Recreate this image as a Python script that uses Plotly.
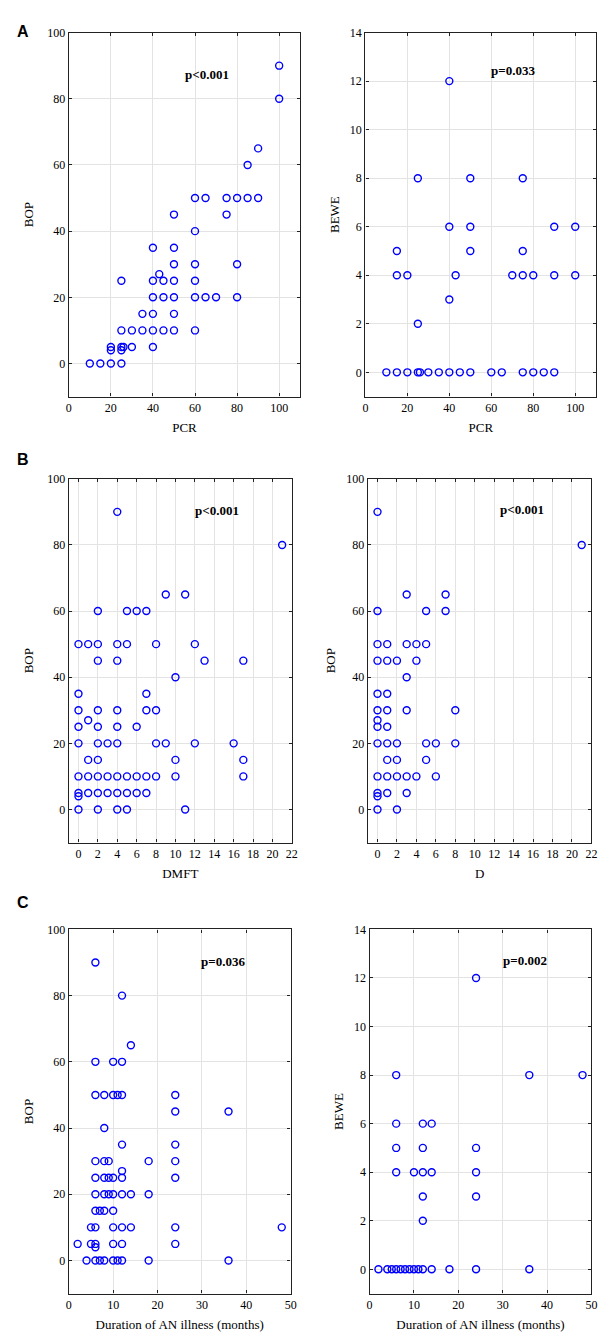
import plotly.graph_objects as go
from plotly.subplots import make_subplots

# Panel A: PCR vs BOP / BEWE
pcr_bop_x = [100, 100, 90, 85, 60, 65, 75, 80, 85, 90, 50, 75, 60, 40, 50, 50, 60, 80, 43,
             25, 40, 45, 50, 60, 40, 45, 50, 60, 65, 70, 80, 35, 40, 50,
             25, 30, 35, 40, 45, 50, 60, 20, 20, 25, 26, 25, 30, 40, 10, 15, 20, 25]
pcr_bop_y = [90, 80, 65, 60, 50, 50, 50, 50, 50, 50, 45, 45, 40, 35, 35, 30, 30, 30, 27,
             25, 25, 25, 25, 25, 20, 20, 20, 20, 20, 20, 20, 15, 15, 15,
             10, 10, 10, 10, 10, 10, 10, 5, 4, 5, 5, 4, 5, 5, 0, 0, 0, 0]

pcr_bewe_x = [40, 25, 50, 75, 40, 50, 90, 100, 15, 50, 75, 15, 20, 43, 70, 75, 80, 90, 100,
              40, 25, 10, 15, 20, 25, 26, 30, 35, 40, 45, 50, 60, 65, 75, 80, 85, 90]
pcr_bewe_y = [12, 8, 8, 8, 6, 6, 6, 6, 5, 5, 5, 4, 4, 4, 4, 4, 4, 4, 4,
              3, 2, 0, 0, 0, 0, 0, 0, 0, 0, 0, 0, 0, 0, 0, 0, 0, 0]

# Panel B: DMFT / D vs BOP
dmft_x = [4, 21, 9, 11, 2, 5, 6, 7, 0, 1, 2, 4, 5, 8, 12, 2, 4, 13, 17, 10, 0, 7,
          0, 2, 4, 7, 8, 1, 0, 2, 4, 6, 0, 2, 3, 4, 8, 9, 12, 16, 1, 2, 10, 17,
          0, 1, 2, 3, 4, 5, 6, 7, 8, 10, 17, 0, 0, 1, 2, 3, 4, 5, 6, 7, 0, 2, 4, 5, 11]
dmft_y = [90, 80, 65, 65, 60, 60, 60, 60, 50, 50, 50, 50, 50, 50, 50, 45, 45, 45, 45, 40, 35, 35,
          30, 30, 30, 30, 30, 27, 25, 25, 25, 25, 20, 20, 20, 20, 20, 20, 20, 20, 15, 15, 15, 15,
          10, 10, 10, 10, 10, 10, 10, 10, 10, 10, 10, 5, 4, 5, 5, 5, 5, 5, 5, 5, 0, 0, 0, 0, 0]

d_x = [0, 21, 3, 7, 0, 5, 7, 0, 1, 3, 4, 5, 0, 1, 2, 4, 3, 0, 1, 0, 1, 3, 8, 0,
       0, 1, 0, 1, 2, 5, 6, 8, 1, 2, 5, 0, 1, 2, 3, 4, 6, 0, 0, 1, 3, 0, 2]
d_y = [90, 80, 65, 65, 60, 60, 60, 50, 50, 50, 50, 50, 45, 45, 45, 45, 40, 35, 35, 30, 30, 30, 30, 27,
       25, 25, 20, 20, 20, 20, 20, 20, 15, 15, 15, 10, 10, 10, 10, 10, 10, 5, 4, 5, 5, 0, 0]

# Panel C: duration of AN illness vs BOP / BEWE
dur_bop_x = [6, 12, 14, 6, 10, 12, 6, 8, 10, 11, 12, 24, 24, 36, 8, 12, 24, 6, 8, 9, 18, 24, 12,
             6, 8, 9, 10, 12, 24, 6, 8, 9, 10, 12, 14, 18, 6, 7, 8, 10,
             5, 6, 10, 12, 14, 24, 48, 2, 5, 6, 6, 10, 12, 24, 4, 6, 7, 8, 10, 11, 12, 18, 36]
dur_bop_y = [90, 80, 65, 60, 60, 60, 50, 50, 50, 50, 50, 50, 45, 45, 40, 35, 35, 30, 30, 30, 30, 30, 27,
             25, 25, 25, 25, 25, 25, 20, 20, 20, 20, 20, 20, 20, 15, 15, 15, 15,
             10, 10, 10, 10, 10, 10, 10, 5, 5, 5, 4, 5, 5, 5, 0, 0, 0, 0, 0, 0, 0, 0, 0]

dur_bewe_x = [24, 6, 36, 48, 6, 12, 14, 6, 12, 24, 6, 10, 12, 14, 24, 12, 24, 12,
              2, 4, 5, 6, 7, 8, 9, 10, 11, 12, 14, 18, 24, 36]
dur_bewe_y = [12, 8, 8, 8, 6, 6, 6, 5, 5, 5, 4, 4, 4, 4, 4, 3, 3, 2,
              0, 0, 0, 0, 0, 0, 0, 0, 0, 0, 0, 0, 0, 0]

panels = [
    (pcr_bop_x, pcr_bop_y, "PCR", "BOP", "p<0.001"),
    (pcr_bewe_x, pcr_bewe_y, "PCR", "BEWE", "p=0.033"),
    (dmft_x, dmft_y, "DMFT", "BOP", "p<0.001"),
    (d_x, d_y, "D", "BOP", "p<0.001"),
    (dur_bop_x, dur_bop_y, "Duration of AN illness (months)", "BOP", "p=0.036"),
    (dur_bewe_x, dur_bewe_y, "Duration of AN illness (months)", "BEWE", "p=0.002"),
]
x_ranges = [[0, 110], [0, 110], [-1, 22], [-1, 22], [0, 50], [0, 50]]
x_dticks = [20, 20, 2, 2, 10, 10]
y_ranges = [[-10, 100], [-1, 14], [-10, 100], [-10, 100], [-10, 100], [-1, 14]]
y_dticks = [20, 2, 20, 20, 20, 2]

x_domains = [[0.110, 0.497], [0.606, 0.992], [0.110, 0.483], [0.610, 0.984], [0.110, 0.481], [0.613, 0.984]]
y_domains = [[0.7075, 0.9808]] * 2 + [[0.3727, 0.6458]] * 2 + [[0.0341, 0.3075]] * 2
p_pos = [(0.597, 0.912), (0.743, 0.923), (0.774, 0.938), (0.796, 0.941), (0.805, 0.938), (0.808, 0.941)]

serif = "Liberation Serif"
fig = make_subplots(rows=3, cols=2)

for i, (x, y, xt, yt, ptxt) in enumerate(panels):
    row, col = i // 2 + 1, i % 2 + 1
    fig.add_trace(
        go.Scatter(
            x=x, y=y, mode="markers", showlegend=False,
            marker=dict(symbol="circle-open", size=7, color="#0000ff", line=dict(width=1.4, color="#0000ff")),
        ),
        row=row, col=col,
    )
    axis_style = dict(
        showline=True, linecolor="#222222", linewidth=1.3, mirror="ticks",
        ticks="inside", ticklen=3, tickcolor="#222222",
        showgrid=True, gridcolor="#e3e3e3", gridwidth=1, zeroline=False,
        tickfont=dict(family=serif, size=12, color="black"),
        title_font=dict(family=serif, size=13, color="black"),
    )
    fig.update_xaxes(axis_style, range=x_ranges[i], dtick=x_dticks[i], domain=x_domains[i],
                     title_text=xt, title_standoff=8, row=row, col=col)
    fig.update_yaxes(axis_style, range=y_ranges[i], dtick=y_dticks[i], domain=y_domains[i],
                     title_text=yt, title_standoff=10 if col == 1 else 7, row=row, col=col)
    n = "" if i == 0 else str(i + 1)
    fig.add_annotation(
        text="<b>" + ptxt.replace("<", "&lt;") + "</b>",
        xref="x" + n + " domain", yref="y" + n + " domain", x=p_pos[i][0], y=p_pos[i][1],
        showarrow=False, font=dict(family=serif, size=13, color="black"),
    )

for label, ypos in [("A", 0.9898), ("B", 0.660), ("C", 0.3195)]:
    fig.add_annotation(
        text="<b>" + label + "</b>", xref="paper", yref="paper", x=0.02, y=ypos,
        showarrow=False, font=dict(family="Liberation Sans", size=16, color="black"),
    )

fig.update_layout(
    width=607, height=1339,
    margin=dict(l=0, r=0, t=0, b=0),
    plot_bgcolor="white", paper_bgcolor="white",
)

fig.write_html(
    "out.html",
    config={"displayModeBar": False},
    post_script="document.body.style.margin='0px';document.body.style.overflow='hidden';",
)
